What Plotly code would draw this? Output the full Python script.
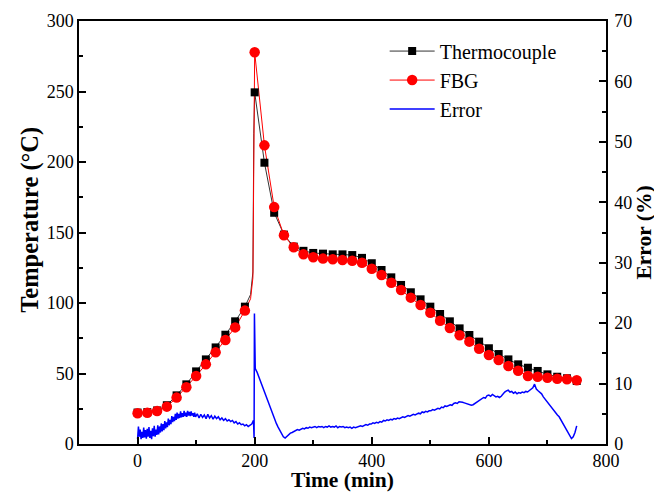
import numpy as np
import plotly.graph_objects as go

# ---------------- data ----------------
# temperature samples every 16.67 min (1000 s)
sample_step = 50.0 / 3.0
time_min = [round(i * sample_step, 2) for i in range(46)]

thermocouple = [22.3, 22.6, 23.8, 27.5, 34.5, 42.3, 51.5, 60.0, 68.5, 77.5,
                87.0, 97.4, 249.4, 199.5, 164.0, 148.5, 140.0, 137.0, 135.5, 135.0,
                134.5, 134.5, 134.0, 132.0, 128.2, 123.4, 118.2, 112.8, 107.6, 102.6,
                97.4, 92.2, 87.0, 82.0, 77.3, 72.6, 67.9, 63.8, 60.0, 56.5,
                54.1, 51.8, 49.4, 47.7, 46.6, 44.7]

fbg = [21.8, 22.2, 23.4, 26.5, 32.9, 40.2, 48.2, 56.5, 65.0, 73.8,
       82.7, 94.6, 277.8, 211.8, 168.0, 148.0, 139.5, 134.5, 132.5, 131.5,
       131.0, 130.5, 130.0, 128.5, 124.3, 119.9, 114.4, 109.2, 103.8, 98.6,
       93.1, 87.4, 82.3, 77.1, 72.6, 67.6, 63.1, 59.6, 55.3, 52.0,
       48.2, 47.7, 47.0, 46.3, 45.9, 45.2]

# extra points of the continuous curves around the sharp peak
peak_time = [193.0, 197.0, 198.5, 199.5]
tc_peak_line = [106.0, 122.0, 220.0, 245.0]
fbg_peak_line = [103.0, 118.0, 230.0, 268.0]

# error (%) read every 1.5 min for 0..99 min, then every 3 min up to 750 min
err_time = list(np.arange(0, 99.1, 1.5)) + list(np.arange(102, 751, 3).astype(float))
err_pct = [
    # 0 .. 99 (1.5 min)
    0.8, 2.9, 1.2, 2.4, 0.8, 2.0, 1.0, 2.7, 1.1, 2.3,
    0.9, 2.5, 1.2, 2.8, 1.0, 2.2, 0.8, 2.6, 1.3, 3.0,
    1.2, 2.4, 1.5, 3.1, 1.6, 2.9, 1.9, 3.4, 2.1, 3.3,
    2.3, 3.8, 2.6, 3.6, 2.8, 4.2, 3.1, 4.0, 3.3, 4.6,
    3.6, 4.5, 3.8, 5.0, 4.0, 5.2, 4.2, 5.0, 4.3, 5.4,
    4.4, 5.1, 4.5, 5.5, 4.6, 5.2, 4.5, 5.5, 4.7, 5.3,
    4.6, 5.4, 4.7, 5.1, 4.5, 5.2, 4.5,
    # 102 .. 198 (3 min)
    5.0, 4.3, 4.9, 4.4, 4.8, 4.2, 4.9, 4.3, 4.7, 4.1, 4.6, 4.2, 4.5, 4.0,
    4.3, 3.9, 4.2, 3.8, 4.0, 3.7, 3.9, 3.5, 3.7, 3.3, 3.5, 3.2, 3.3, 3.0, 3.2, 2.9, 3.1, 3.3,
    3.9,
    # 201 .. 300
    12.5, 11.9, 11.1, 10.4, 9.6, 8.8, 8.0, 7.1, 6.3, 5.5,
    4.8, 4.1, 3.4, 2.8, 2.2, 1.6, 1.2, 1.0, 1.3, 1.5,
    1.8, 1.9, 2.1, 2.2, 2.4, 2.3, 2.5, 2.6, 2.5, 2.7,
    2.6, 2.8, 2.7, 2.8,
    # 303 .. 399
    2.9, 2.7, 2.9, 2.8, 2.9, 2.7, 2.9, 2.8, 3.0, 2.8,
    2.9, 2.8, 3.0, 2.7, 2.9, 2.8, 2.9, 2.7, 2.8, 2.7,
    2.8, 2.6, 2.8, 2.7, 2.8, 2.9, 3.0, 2.9, 3.1, 3.2,
    3.1, 3.3, 3.3,
    # 402 .. 498
    3.5, 3.4, 3.6, 3.5, 3.7, 3.6, 3.9, 3.8, 4.0, 3.9, 4.1, 4.0, 4.2, 4.1, 4.3, 4.2, 4.4,
    4.5, 4.4, 4.6, 4.7, 4.6, 4.8, 4.9, 4.8, 5.0, 5.1, 5.0, 5.3, 5.2, 5.4, 5.3, 5.5,
    # 501 .. 630
    5.5, 5.7, 5.6, 5.8, 5.9, 5.8, 6.1, 6.0, 6.3, 6.2, 6.4, 6.5, 6.4, 6.7, 6.8, 6.7, 7.0, 7.0,
    6.9, 6.8, 6.7, 6.6, 6.5, 6.4, 6.5, 6.7, 6.9, 7.2, 7.3,
    7.5, 7.7, 7.6, 8.0, 8.1, 7.9, 8.2, 8.0, 7.8, 7.9, 7.7, 7.9, 8.3, 8.6, 8.8,
    # 633 .. 750
    8.9, 8.6, 8.7, 8.4, 8.6, 8.3, 8.5, 8.4, 8.6, 8.5, 8.7, 8.6, 8.8, 9.0, 9.3, 9.9,
    9.1, 8.8, 8.5, 8.3, 7.8, 7.4, 7.0, 6.6, 6.3, 5.9, 5.6, 5.2, 4.8, 4.5, 4.0,
    3.6, 3.1, 2.6, 2.0, 1.4, 0.9, 1.2, 1.9, 3.0,
]
# sharp spike at the moment of the temperature jump
spike_time = [199.0, 199.6]
spike_pct = [1.0, 21.6]

# ---------------- build curves ----------------
def merge(t1, v1, t2, v2):
    pairs = sorted(zip(list(t1) + list(t2), list(v1) + list(v2)))
    return [p[0] for p in pairs], [p[1] for p in pairs]

tc_lx, tc_ly = merge(time_min, thermocouple, peak_time, tc_peak_line)
fbg_lx, fbg_ly = merge(time_min, fbg, peak_time, fbg_peak_line)
n = min(len(err_time), len(err_pct))
err_x, err_y = merge(err_time[:n], err_pct[:n], spike_time, spike_pct)

FONT = "Times New Roman, Liberation Serif, serif"
BLACK_LINE = "#333333"
RED = "#ff0000"
BLUE = "#0000ff"

fig = go.Figure()
fig.add_trace(go.Scatter(x=tc_lx, y=tc_ly, mode="lines",
                         line=dict(color=BLACK_LINE, width=1), showlegend=False,
                         hoverinfo="skip"))
fig.add_trace(go.Scatter(x=fbg_lx, y=fbg_ly, mode="lines",
                         line=dict(color=RED, width=1), showlegend=False,
                         hoverinfo="skip"))
fig.add_trace(go.Scatter(x=time_min, y=thermocouple, mode="markers",
                         marker=dict(symbol="square", size=8, color="black"),
                         showlegend=False))
fig.add_trace(go.Scatter(x=time_min, y=fbg, mode="markers",
                         marker=dict(symbol="circle", size=10.5, color=RED),
                         showlegend=False))
fig.add_trace(go.Scatter(x=[None], y=[None], mode="lines+markers", name="Thermocouple",
                         line=dict(color=BLACK_LINE, width=1),
                         marker=dict(symbol="square", size=8, color="black")))
fig.add_trace(go.Scatter(x=[None], y=[None], mode="lines+markers", name="FBG",
                         line=dict(color=RED, width=1),
                         marker=dict(symbol="circle", size=10.5, color=RED)))
fig.add_trace(go.Scatter(x=err_x, y=err_y, mode="lines", name="Error", yaxis="y2",
                         line=dict(color=BLUE, width=1.5)))

axis_common = dict(
    showline=True, linecolor="black", linewidth=1.5,
    ticks="inside", ticklen=7, tickwidth=1.5, tickcolor="black",
    showgrid=False, zeroline=False, automargin=False,
    tickfont=dict(family=FONT, size=18, color="black"),
)
minor_common = dict(ticks="inside", ticklen=4, tickwidth=1.5, tickcolor="black", tick0=0)
TITLE_FONT = dict(family=FONT, size=21.5, color="black")

# the page body adds an 8 px offset; the figure is sized to fit the window
fig.update_layout(
    width=654, height=484,
    margin=dict(l=71, r=56, t=13, b=48),
    paper_bgcolor="white", plot_bgcolor="white",
    font=dict(family=FONT, color="black"),
    xaxis=dict(
        range=[-100, 800], tick0=0, dtick=200, mirror=True,
        minor=dict(dtick=100, **minor_common),
        title=dict(text="<b>Time (min)</b>", font=TITLE_FONT, standoff=0),
        ticklabelstandoff=0,
        **axis_common,
    ),
    yaxis=dict(
        range=[0, 300], tick0=0, dtick=50,
        minor=dict(dtick=25, **minor_common),
        **axis_common,
    ),
    yaxis2=dict(
        range=[0, 70], tick0=0, dtick=10, overlaying="y", side="right",
        minor=dict(dtick=5, **minor_common),
        title=dict(text="<b>Error (%)</b>", font=TITLE_FONT, standoff=4),
        ticklabelstandoff=3,
        **axis_common,
    ),
    legend=dict(x=0.58, y=0.975, xanchor="left", yanchor="top",
                bgcolor="rgba(0,0,0,0)", borderwidth=0,
                font=dict(family=FONT, size=20, color="black"),
                tracegroupgap=0, itemwidth=45),
    showlegend=True,
    annotations=[dict(
        text="<b>Temperature (°C)</b>", textangle=-90,
        xref="paper", yref="paper", x=-0.093, y=0.53,
        xanchor="center", yanchor="middle", showarrow=False,
        font=dict(family=FONT, size=24.5, color="black"),
    )],
)

fig.write_html("out.html")
